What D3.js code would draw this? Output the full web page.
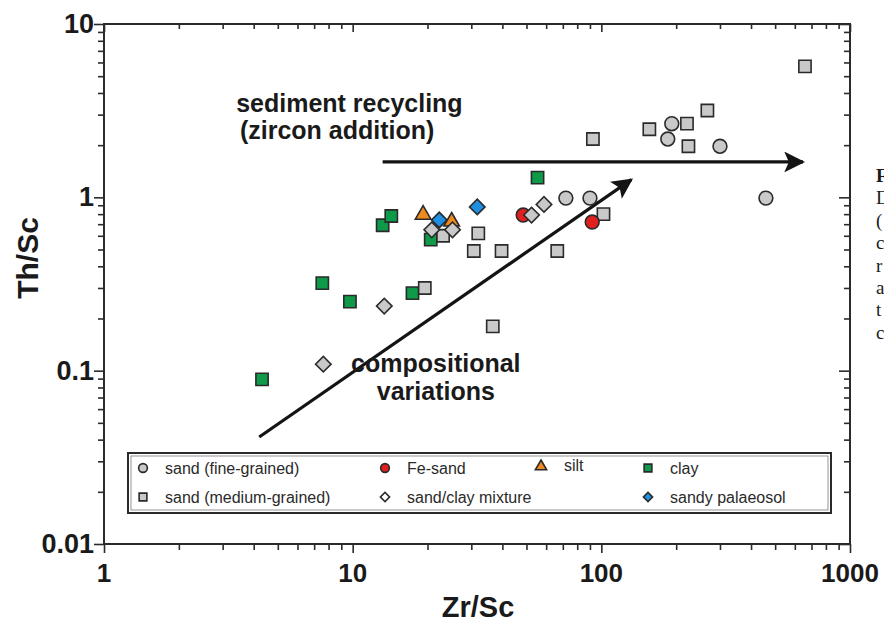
<!DOCTYPE html>
<html>
<head>
<meta charset="utf-8">
<script src="https://cdn.jsdelivr.net/npm/d3@7"></script>
<style>
  html, body { margin: 0; padding: 0; background: #fff; }
  svg { display: block; }
</style>
</head>
<body>
<svg id="chart" width="884" height="624"></svg>
<script>
// Th/Sc vs Zr/Sc — sample groups
const sandFineX = [72, 90, 192, 185, 300, 459];
const sandFineY = [0.99, 0.99, 2.66, 2.17, 1.97, 0.99];

const sandMediumX = [659, 267, 221, 156, 224, 92.5, 102, 32, 30.7, 39.7, 66.5, 19.5, 23.1, 36.6];
const sandMediumY = [5.70, 3.17, 2.66, 2.47, 1.97, 2.17, 0.80, 0.62, 0.49, 0.49, 0.49, 0.30, 0.60, 0.18];

const clayX = [4.32, 7.55, 9.75, 13.2, 14.3, 20.6, 17.4, 55.4];
const clayY = [0.089, 0.32, 0.25, 0.69, 0.78, 0.57, 0.28, 1.30];

const siltX = [19.2, 25.0];
const siltY = [0.81, 0.74];

const palaeosolX = [22.3, 31.7];
const palaeosolY = [0.74, 0.88];

const feSandX = [48.5, 91.9];
const feSandY = [0.79, 0.72];

const mixtureX = [20.8, 25.2, 52.4, 58.8, 13.4, 7.62];
const mixtureY = [0.65, 0.65, 0.79, 0.91, 0.236, 0.109];

const xTickValues = [1, 10, 100, 1000];
const xTickLabels = ["1", "10", "100", "1000"];
const yTickValues = [0.01, 0.1, 1, 10];
const yTickLabels = ["0.01", "0.1", "1", "10"];

// trend arrows: [x0, y0, x1, y1] in data units
const recyclingArrow = [13.2, 1.60, 647, 1.60];
const compositionArrow = [4.21, 0.0414, 132, 1.265];

// annotation lines: anchor x and baseline y in data units
const recyclingLines = ["sediment recycling", "(zircon addition)"];
const recyclingLineX = [3.40, 3.52];
const recyclingLineY = [3.09, 2.16];
const compositionLines = ["compositional", "variations"];
const compositionLineX = [21.6, 21.6];
const compositionLineY = [0.098, 0.068];

const captionInitials = ["F", "D", "(", "c", "r", "a", "t", "c"];

const svg = d3.select("#chart");
const plot = { left: 104, right: 850, top: 24, bottom: 544 };

const x = d3.scaleLog().domain([1, 1000]).range([plot.left, plot.right]);
const y = d3.scaleLog().domain([0.01, 10]).range([plot.bottom, plot.top]);

const axisColor = "#2b2b2b";
const font = "'Liberation Sans', Arial, Helvetica, sans-serif";

const minorX = [];
for (let d = 1; d < 1000; d *= 10) for (let k = 2; k <= 9; k++) minorX.push(d * k);
const minorY = [];
for (let d = 0.01; d < 10; d *= 10) for (let k = 2; k <= 9; k++) minorY.push(+(d * k).toPrecision(3));

// frame
svg.append("rect")
  .attr("x", plot.left).attr("y", plot.top)
  .attr("width", plot.right - plot.left).attr("height", plot.bottom - plot.top)
  .attr("fill", "none").attr("stroke", axisColor).attr("stroke-width", 2);

function tickAxis(axisFn, scale, vals, size, transform) {
  const g = svg.append("g").attr("transform", transform)
    .call(axisFn(scale).tickValues(vals).tickSize(size).tickFormat(""));
  g.select(".domain").remove();
  g.selectAll("line").attr("stroke", axisColor).attr("stroke-width", 1.6);
  return g;
}

// bottom: outward ticks
tickAxis(d3.axisBottom, x, minorX, 6, `translate(0,${plot.bottom})`);
tickAxis(d3.axisBottom, x, xTickValues, 9, `translate(0,${plot.bottom})`);
// top: inward ticks
tickAxis(d3.axisBottom, x, minorX, 5, `translate(0,${plot.top})`);
tickAxis(d3.axisBottom, x, xTickValues, 8, `translate(0,${plot.top})`);
// left: outward ticks
tickAxis(d3.axisLeft, y, minorY, 6, `translate(${plot.left},0)`);
tickAxis(d3.axisLeft, y, yTickValues, 10, `translate(${plot.left},0)`);
// right: inward ticks
tickAxis(d3.axisLeft, y, minorY, 6, `translate(${plot.right},0)`);
tickAxis(d3.axisLeft, y, yTickValues, 11, `translate(${plot.right},0)`);

// tick labels
svg.append("g").selectAll("text").data(xTickValues).join("text")
  .attr("x", d => x(d)).attr("y", plot.bottom + 38)
  .attr("text-anchor", "middle")
  .attr("font-family", font).attr("font-weight", "bold").attr("font-size", 26)
  .attr("fill", "#1a1a1a")
  .text((d, i) => xTickLabels[i]);

svg.append("g").selectAll("text").data(yTickValues).join("text")
  .attr("x", plot.left - 10).attr("y", d => y(d) + 9)
  .attr("text-anchor", "end")
  .attr("font-family", font).attr("font-weight", "bold").attr("font-size", 27)
  .attr("fill", "#1a1a1a")
  .text((d, i) => yTickLabels[i]);

// axis titles
svg.append("text")
  .attr("x", 478).attr("y", 617)
  .attr("text-anchor", "middle")
  .attr("font-family", font).attr("font-weight", "bold").attr("font-size", 29)
  .attr("fill", "#1a1a1a").text("Zr/Sc");

svg.append("text")
  .attr("transform", `translate(38,258) rotate(-90)`)
  .attr("text-anchor", "middle")
  .attr("font-family", font).attr("font-weight", "bold").attr("font-size", 30)
  .attr("fill", "#1a1a1a").text("Th/Sc");

// arrows
const defs = svg.append("defs");
defs.append("marker")
  .attr("id", "head").attr("viewBox", "0 0 10 10")
  .attr("refX", 9).attr("refY", 5)
  .attr("markerWidth", 8).attr("markerHeight", 6.5)
  .attr("markerUnits", "strokeWidth")
  .attr("orient", "auto")
  .append("path").attr("d", "M0,0 L10,5 L0,10 L2.2,5 Z").attr("fill", "#141414");

[recyclingArrow, compositionArrow].forEach(a => {
  svg.append("line")
    .attr("x1", x(a[0])).attr("y1", y(a[1]))
    .attr("x2", x(a[2])).attr("y2", y(a[3]))
    .attr("stroke", "#141414").attr("stroke-width", 3.2)
    .attr("marker-end", "url(#head)");
});

// annotations
function annotate(lines, xs, ys, size, anchor) {
  svg.append("g").selectAll("text").data(lines).join("text")
    .attr("x", (d, i) => x(xs[i])).attr("y", (d, i) => y(ys[i]))
    .attr("text-anchor", anchor)
    .attr("font-family", font).attr("font-weight", "bold").attr("font-size", size)
    .attr("fill", "#1a1a1a")
    .text(d => d);
}
annotate(recyclingLines, recyclingLineX, recyclingLineY, 25, "start");
annotate(compositionLines, compositionLineX, compositionLineY, 25, "middle");

// symbols
const stroke = "#2a2a2a";
const symbolSize = { circle: 150, square: 150, diamond: 120, triangle: 105 };
const symbolType = {
  circle: d3.symbolCircle, square: d3.symbolSquare,
  diamond: d3.symbolSquare, triangle: d3.symbolTriangle
};
function symbolTransform(type, px, py) {
  if (type === "diamond") return `translate(${px},${py}) rotate(45)`;
  if (type === "triangle") return `translate(${px},${py + 1.5})`;
  return `translate(${px},${py})`;
}
function drawSeries(xs, ys, type, fill) {
  svg.append("g").selectAll("path").data(xs.map((v, i) => [v, ys[i]])).join("path")
    .attr("transform", d => symbolTransform(type, x(d[0]), y(d[1])))
    .attr("d", d3.symbol().type(symbolType[type]).size(symbolSize[type]))
    .attr("fill", fill).attr("stroke", stroke).attr("stroke-width", 1.6);
}

drawSeries(clayX, clayY, "square", "#0e9a48");
drawSeries(sandMediumX, sandMediumY, "square", "#c9c9c9");
drawSeries(sandFineX, sandFineY, "circle", "#c9c9c9");
drawSeries(siltX, siltY, "triangle", "#ef8a1f");
drawSeries(palaeosolX, palaeosolY, "diamond", "#1e8fe3");
drawSeries(feSandX, feSandY, "circle", "#e0201f");
drawSeries(mixtureX, mixtureY, "diamond", "#c9c9c9");

// legend
const legend = svg.append("g");
legend.append("rect").attr("x", 128).attr("y", 453).attr("width", 703).attr("height", 60)
  .attr("fill", "#fff").attr("stroke", "#2a2a2a").attr("stroke-width", 2);
legend.append("rect").attr("x", 131).attr("y", 456).attr("width", 697).attr("height", 54)
  .attr("fill", "none").attr("stroke", "#7a7a7a").attr("stroke-width", 0.8);

const legendItems = [
  { label: "sand (fine-grained)", type: "circle", fill: "#c9c9c9", col: 0, row: 0 },
  { label: "Fe-sand", type: "circle", fill: "#e0201f", col: 1, row: 0 },
  { label: "silt", type: "triangle", fill: "#ef8a1f", col: 2, row: 0 },
  { label: "clay", type: "square", fill: "#0e9a48", col: 3, row: 0 },
  { label: "sand (medium-grained)", type: "square", fill: "#c9c9c9", col: 0, row: 1 },
  { label: "sand/clay mixture", type: "diamond", fill: "#ffffff", col: 1, row: 1 },
  { label: "sandy palaeosol", type: "diamond", fill: "#1e8fe3", col: 3, row: 1 }
];
const colX = [143, 385, 541, 648];
const rowY = [468, 497];
const legendSymbolSize = { circle: 60, square: 60, diamond: 42, triangle: 55 };
legendItems.forEach(it => {
  const cx = colX[it.col], cy = rowY[it.row];
  legend.append("path")
    .attr("transform", symbolTransform(it.type, cx, cy - (it.type === "triangle" ? 3 : 0)))
    .attr("d", d3.symbol().type(symbolType[it.type]).size(legendSymbolSize[it.type]))
    .attr("fill", it.fill).attr("stroke", stroke).attr("stroke-width", 1.6);
  legend.append("text")
    .attr("x", cx + (it.col === 2 ? 23 : 22)).attr("y", cy + (it.col === 2 ? 3 : 6))
    .attr("font-family", font).attr("font-size", 16).attr("fill", "#2a2a2a")
    .text(it.label);
});

// caption column at right edge (continues beyond the page)
const caption = svg.append("text")
  .attr("font-family", "'Liberation Serif', 'Times New Roman', serif")
  .attr("font-size", 19).attr("fill", "#1a1a1a");
captionInitials.forEach((c, i) => {
  caption.append("tspan").attr("x", 876).attr("y", 182 + i * 22.4)
    .attr("font-weight", i === 0 ? "bold" : "normal").text(c);
});
</script>
</body>
</html>
